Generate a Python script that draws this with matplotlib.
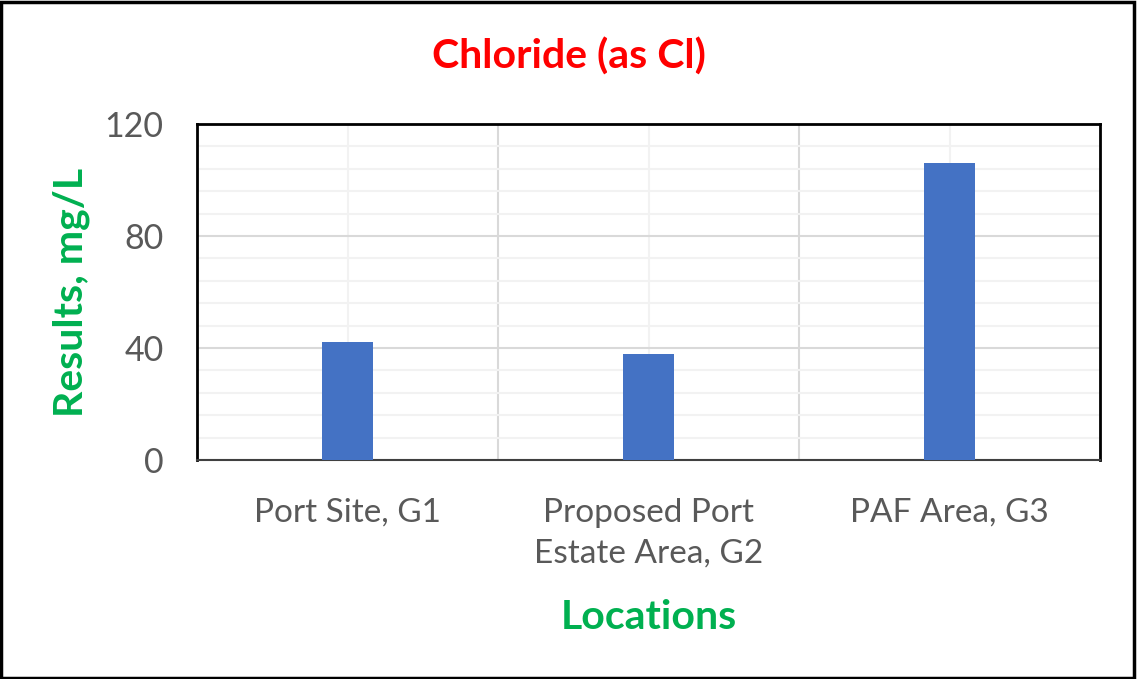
import matplotlib
matplotlib.use("Agg")
import matplotlib.pyplot as plt
from matplotlib.patches import Rectangle

plt.rcParams['font.family'] = ['Lato', 'DejaVu Sans']

locations = ["Port Site, G1", "Proposed Port\nEstate Area, G2", "PAF Area, G3"]
chloride = [42, 38, 106]
y_ticks = [0, 40, 80, 120]

fig = plt.figure(figsize=(11.37, 6.79), dpi=100)
ax = fig.add_axes([197 / 1137, 1 - 460 / 679, 903 / 1137, 336 / 679])

x = list(range(len(locations)))
ax.bar(x, chloride, width=0.167, color="#4472C4", zorder=3)

ax.set_xlim(-0.5, len(locations) - 0.5)
ax.set_ylim(0, 120)
ax.set_yticks(y_ticks)
ax.set_yticks([v for v in range(0, 121, 8) if v not in y_ticks], minor=True)
ax.set_xticks(x)
ax.set_xticklabels(locations, linespacing=1.45)

ax.grid(True, which="major", axis="y", color="#d9d9d9", linewidth=1.5, zorder=0)
ax.grid(True, which="minor", axis="y", color="#f2f2f2", linewidth=1.5, zorder=0)
for xv in [i + 0.5 for i in x[:-1]]:
    ax.axvline(xv, color="#d9d9d9", linewidth=1.5, zorder=1)
for xv in x:
    ax.axvline(xv, color="#f2f2f2", linewidth=1.5, zorder=0.5)

ax.tick_params(axis="both", which="both", length=0)
ax.tick_params(axis="y", labelsize=24.5, labelcolor="#595959", pad=24)
ax.tick_params(axis="x", labelsize=24, labelcolor="#595959", pad=27)

for side in ["left", "top", "right"]:
    ax.spines[side].set_color("black")
    ax.spines[side].set_linewidth(2)
ax.spines["bottom"].set_color("#404040")
ax.spines["bottom"].set_linewidth(1.5)

ax.set_ylabel("Results, mg/L", fontsize=29.5, fontweight="bold", color="#00B050")
ax.yaxis.set_label_coords(-0.118, 0.5)
ax.set_xlabel("Locations", fontsize=29.5, fontweight="bold", color="#00B050")
ax.xaxis.set_label_coords(0.5, -0.415)

fig.text(0.5, 1 - 57 / 679, "Chloride (as Cl)", fontsize=29.5, fontweight="bold",
         color="#FF0000", ha="center", va="center")

fig.patches.append(Rectangle((0.001, 0.002), 0.996, 0.995, transform=fig.transFigure,
                             fill=False, edgecolor="black", linewidth=2.5))

fig.savefig("out.png", dpi=100)
